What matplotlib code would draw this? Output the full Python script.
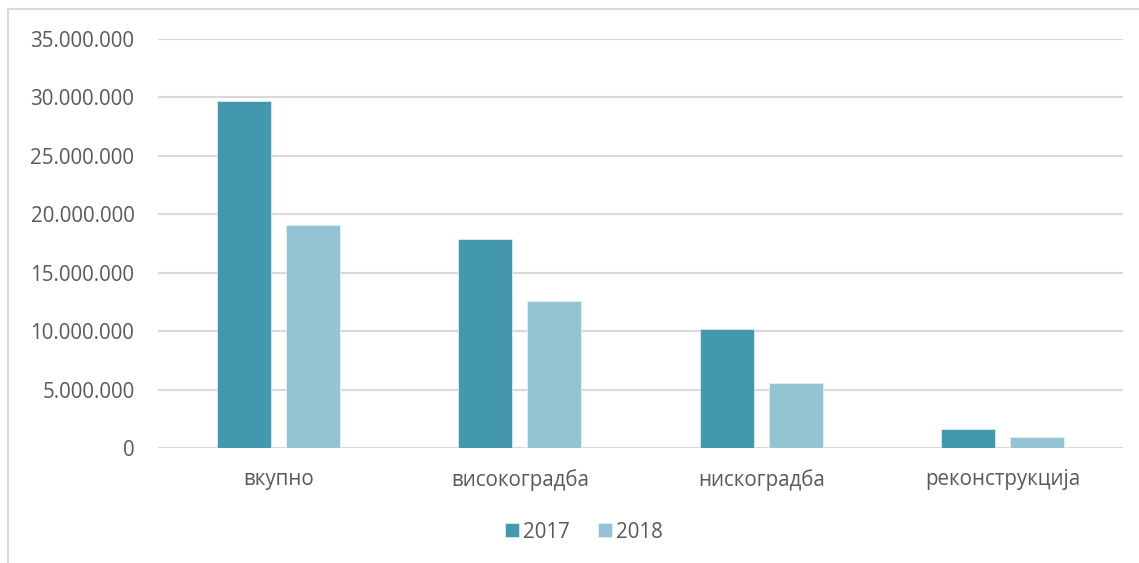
import matplotlib
matplotlib.use("Agg")
import matplotlib.pyplot as plt
import numpy as np
from matplotlib.ticker import FuncFormatter
from matplotlib import font_manager

categories = ["вкупно", "високоградба", "нискоградба", "реконструкција"]
series_names = ["2017", "2018"]
values_2017 = [29700000, 17900000, 10200000, 1600000]
values_2018 = [19100000, 12600000, 5600000, 900000]
yticks = [0, 5000000, 10000000, 15000000, 20000000, 25000000, 30000000, 35000000]

c2017 = "#4397AE"
c2018 = "#94C3D4"
txt = "#595959"
grid = "#D9D9D9"

names = {f.name for f in font_manager.fontManager.ttflist}
fam = 'Liberation Sans Narrow' if 'Liberation Sans Narrow' in names else 'Open Sans'
fs = 18.6 if fam == 'Liberation Sans Narrow' else 14.8
plt.rcParams['font.family'] = [fam, 'DejaVu Sans']

W, H = 1139, 563
fig = plt.figure(figsize=(W / 100, H / 100), dpi=100)

# outer frame (partial, top-left)
fig.add_artist(plt.Line2D([8 / W, 8 / W], [0, 1 - 9 / H], color=grid, lw=1.5,
                          transform=fig.transFigure))
fig.add_artist(plt.Line2D([8 / W, 1], [1 - 9 / H, 1 - 9 / H], color=grid, lw=1.5,
                          transform=fig.transFigure))

left, right = 158, 1123
top, bottom = 39, 448
ax = fig.add_axes([left / W, 1 - bottom / H, (right - left) / W, (bottom - top) / H])

x = np.arange(len(categories))
bw = 0.224
off = 0.143
ax.bar(x - off, values_2017, width=bw, color=c2017, edgecolor="#D7ECF2", linewidth=0.6,
       label=series_names[0], zorder=3)
ax.bar(x + off, values_2018, width=bw, color=c2018, edgecolor="#E3F1F6", linewidth=0.6,
       label=series_names[1], zorder=3)

ax.set_xlim(-0.5, len(categories) - 0.5)
ax.set_ylim(0, 35000000)
ax.set_yticks(yticks)
ax.yaxis.set_major_formatter(FuncFormatter(lambda v, p: f"{int(v):,}".replace(",", ".")))
ax.set_xticks(x)
ax.set_xticklabels(categories)
ax.tick_params(axis='both', length=0, labelsize=fs, colors=txt)
ax.tick_params(axis='y', pad=17)
ax.tick_params(axis='x', pad=15)
ax.yaxis.grid(True, color=grid, lw=1.5, zorder=0)
ax.set_axisbelow(True)
for s in ax.spines.values():
    s.set_visible(False)

leg = fig.legend(loc="center", bbox_to_anchor=(584 / W, 1 - 532 / H), ncol=2, frameon=False,
                 fontsize=fs, handlelength=0.65, handleheight=0.65, handletextpad=0.2,
                 columnspacing=1.4, labelcolor=txt)

fig.savefig("out.png", dpi=100, facecolor="white")
